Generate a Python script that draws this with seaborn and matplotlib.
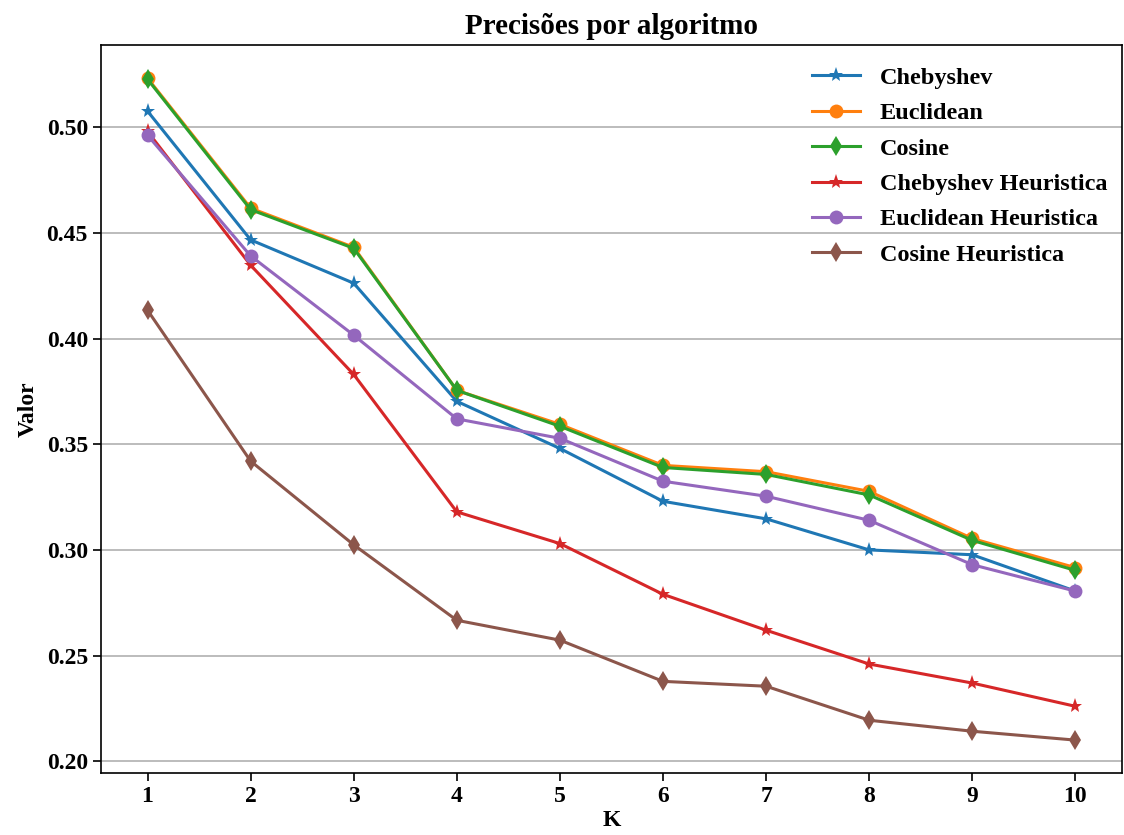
import numpy as np
import pandas as pd
import matplotlib
matplotlib.use('Agg')
import matplotlib.pyplot as plt
import seaborn as sns

k_values = [1, 2, 3, 4, 5, 6, 7, 8, 9, 10]

chebyshev = [0.5076, 0.4467, 0.4262, 0.3703, 0.3480, 0.3230, 0.3147, 0.3000, 0.2977, 0.2805]
euclidean = [0.5232, 0.4617, 0.4432, 0.3755, 0.3594, 0.3400, 0.3370, 0.3277, 0.3054, 0.2916]
cosine = [0.5227, 0.4610, 0.4427, 0.3755, 0.3585, 0.3390, 0.3357, 0.3260, 0.3045, 0.2903]
chebyshev_heur = [0.4980, 0.4347, 0.3830, 0.3180, 0.3030, 0.2790, 0.2620, 0.2460, 0.2370, 0.2260]
euclidean_heur = [0.4962, 0.4391, 0.4016, 0.3620, 0.3528, 0.3325, 0.3254, 0.3140, 0.2930, 0.2805]
cosine_heur = [0.4134, 0.3420, 0.3024, 0.2667, 0.2573, 0.2378, 0.2355, 0.2194, 0.2142, 0.2100]

series_names = ["Chebyshev", "Euclidean", "Cosine",
                "Chebyshev Heuristica", "Euclidean Heuristica", "Cosine Heuristica"]
series_values = [chebyshev, euclidean, cosine, chebyshev_heur, euclidean_heur, cosine_heur]
series_markers = ["*", "o", "d", "*", "o", "d"]

plt.rcParams['font.family'] = ['Liberation Serif', 'DejaVu Serif']
plt.rcParams['font.weight'] = 'bold'
plt.rcParams['axes.labelweight'] = 'bold'
plt.rcParams['axes.titleweight'] = 'bold'

fig, ax = plt.subplots(figsize=(11.24, 8.35), dpi=100)
palette = sns.color_palette("tab10")

for i, (name, vals) in enumerate(zip(series_names, series_values)):
    df = pd.DataFrame({"K": k_values, "Valor": vals})
    sns.lineplot(data=df, x="K", y="Valor", ax=ax, color=palette[i],
                 marker=series_markers[i], markersize=10 if series_markers[i] != "*" else 11,
                 markeredgewidth=0, linewidth=2.2, label=name)

ax.set_xticks(k_values)
ax.yaxis.grid(True, color='#b0b0b0', linewidth=1.2)
ax.set_axisbelow(True)
ax.tick_params(labelsize=17, length=6, width=1.2)
for spine in ax.spines.values():
    spine.set_linewidth(1.2)
for lbl in ax.get_xticklabels() + ax.get_yticklabels():
    lbl.set_fontweight('bold')
ax.set_xlabel("K", fontsize=17, fontweight='bold', labelpad=2)
ax.set_ylabel("Valor", fontsize=17, fontweight='bold', labelpad=6)
ax.set_title("Precisões por algoritmo", fontsize=21, fontweight='bold', pad=8)
ax.legend(frameon=False, loc='upper right', prop={'weight': 'bold', 'size': 17.5},
          labelspacing=0.55, borderaxespad=0.2, bbox_to_anchor=(1.0, 0.99))

fig.subplots_adjust(left=0.09, right=0.998, top=0.946, bottom=0.074)
fig.savefig("out.png", dpi=100)
